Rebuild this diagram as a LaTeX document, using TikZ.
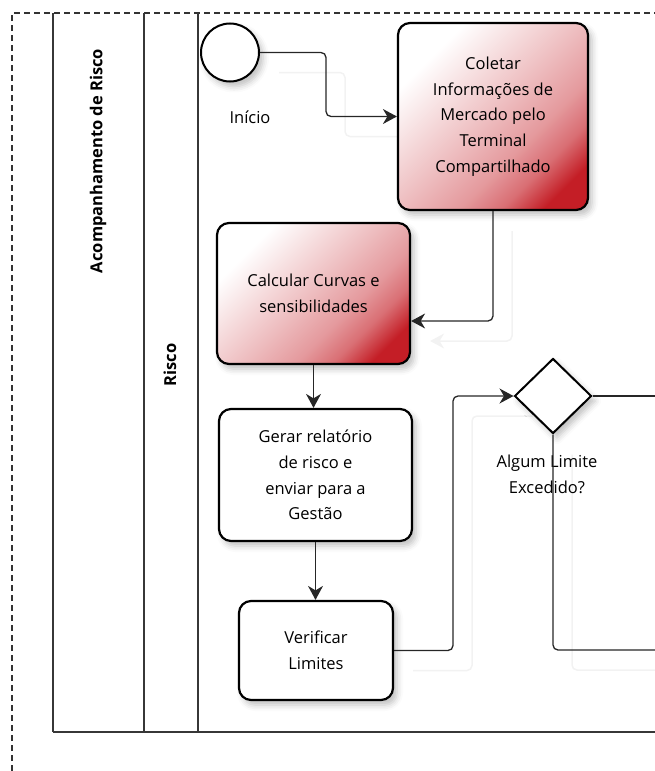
\documentclass[tikz,border=0pt]{standalone}
\usepackage{fontspec}
\setmainfont{Open Sans}
\usetikzlibrary{shapes.geometric,arrows.meta,shadows.blur,calc}
\definecolor{taskred}{RGB}{196,30,38}
\definecolor{lanegray}{RGB}{55,55,55}
\pgfdeclarehorizontalshading{taskfill}{100bp}{color(0bp)=(white); color(27bp)=(white); color(50bp)=(taskred!30); color(61bp)=(taskred!45); color(69bp)=(taskred!64); color(77bp)=(taskred); color(100bp)=(taskred)}
\pgfdeclarelayer{background}
\pgfsetlayers{background,main}
\begin{document}
\begin{tikzpicture}[x=1pt,y=-1pt,
  font=\fontsize{16.5}{25.7}\selectfont,
  lane/.style={draw=lanegray,line width=1.4pt},
  frame/.style={draw=black!80,line width=1.2pt,dash pattern=on 6pt off 4pt},
  softshadow/.style={blur shadow={shadow xshift=4pt,shadow yshift=-5pt,shadow blur radius=6pt,shadow opacity=25}},
  task/.style={draw=black,line width=2.2pt,rounded corners=12pt,align=center,inner sep=4pt,softshadow,fill=white},
  hot/.style={task,shade,shading=taskfill,shading angle=-45},
  tip/.style={-{Stealth[length=14pt,width=15pt,inset=4.5pt]}},
  flow/.style={draw=black!85,line width=1.3pt,rounded corners=5pt},
  arrow/.style={flow,tip},
  ghost/.style={draw=black!5,line width=1.5pt,rounded corners=5pt,transform canvas={xshift=19pt,yshift=-20pt}},
  ghostarrow/.style={ghost,tip},
  lanetitle/.style={rotate=90,font=\fontsize{16.5}{18}\selectfont\bfseries},
  ]
\useasboundingbox (0,0) rectangle (655,771);

% outer dashed frame
\coordinate (fr-bl) at (12,771);
\coordinate (fr-tl) at (12,13);
\coordinate (fr-tr) at (655,13);
\draw[frame] (fr-bl) -- (fr-tl) -- (fr-tr);

% pool and lane borders
\coordinate (p-a) at (53,13);
\coordinate (p-b) at (144,13);
\coordinate (p-c) at (198,13);
\coordinate (p-a2) at (53,732);
\coordinate (p-b2) at (144,732);
\coordinate (p-c2) at (198,732);
\coordinate (p-end) at (655,732);
\draw[lane] (p-a) -- (p-a2);
\draw[lane] (p-b) -- (p-b2);
\draw[lane] (p-c) -- (p-c2);
\draw[lane] (p-a2) -- (p-end);

\node[lanetitle] (pool) at (98,161) {Acompanhamento de Risco};
\node[lanetitle] (lane) at (170,365) {Risco};

% events, tasks, gateway
\node[circle,draw=black,line width=2pt,fill=white,minimum size=58pt,inner sep=0pt,softshadow] (start) at (230,52.5) {};
\node (startlbl) at (250,117) {Início};

\node[hot,minimum width=190pt,minimum height=187pt] (t1) at (493,116.5)
  {Coletar\\Informações de\\Mercado pelo\\Terminal\\Compartilhado};
\node[hot,minimum width=193pt,minimum height=141pt] (t2) at (313.5,293.5)
  {Calcular Curvas e\\sensibilidades};
\node[task,minimum width=193pt,minimum height=132pt] (t3) at (315.5,475)
  {Gerar relatório\\de risco e\\enviar para a\\Gestão};
\node[task,minimum width=154pt,minimum height=99pt] (t4) at (316,650.5)
  {Verificar\\Limites};

\node[diamond,draw=black,line width=2pt,fill=white,minimum width=77pt,minimum height=75pt,inner sep=0pt,softshadow] (gw) at (553,396) {};
\node[align=center] (gwlbl) at (547,474.5) {Algum Limite\\Excedido?};

% helper points for the routes
\coordinate (k1) at (326,52.5);
\coordinate (k2) at (453,396);
\coordinate (out-r) at (655,396);
\coordinate (out-b) at (655,650);

% faint connector shadows, kept behind everything
\begin{pgfonlayer}{background}
\draw[ghost] (start.east) -- (k1) |- (t1.west);
\draw[ghostarrow] (t1.south) |- ([yshift=-27.5pt]t2.east);
\draw[ghost] (t4.east) -| (k2) -- (gw.west);
\draw[ghost] (gw.south) |- (out-b);
\end{pgfonlayer}

% sequence flows
\draw[arrow] (start.east) -- (k1) |- (t1.west);
\draw[arrow] (t1.south) |- ([yshift=-27.5pt]t2.east);
\draw[arrow] (t2.south) -- (t2.south |- t3.north);
\draw[arrow] (t3.south) -- (t3.south |- t4.north);
\draw[arrow] (t4.east) -| (k2) -- (gw.west);
\draw[flow] (gw.east) -- (out-r);
\draw[flow] (gw.south) |- (out-b);
\end{tikzpicture}
\end{document}
